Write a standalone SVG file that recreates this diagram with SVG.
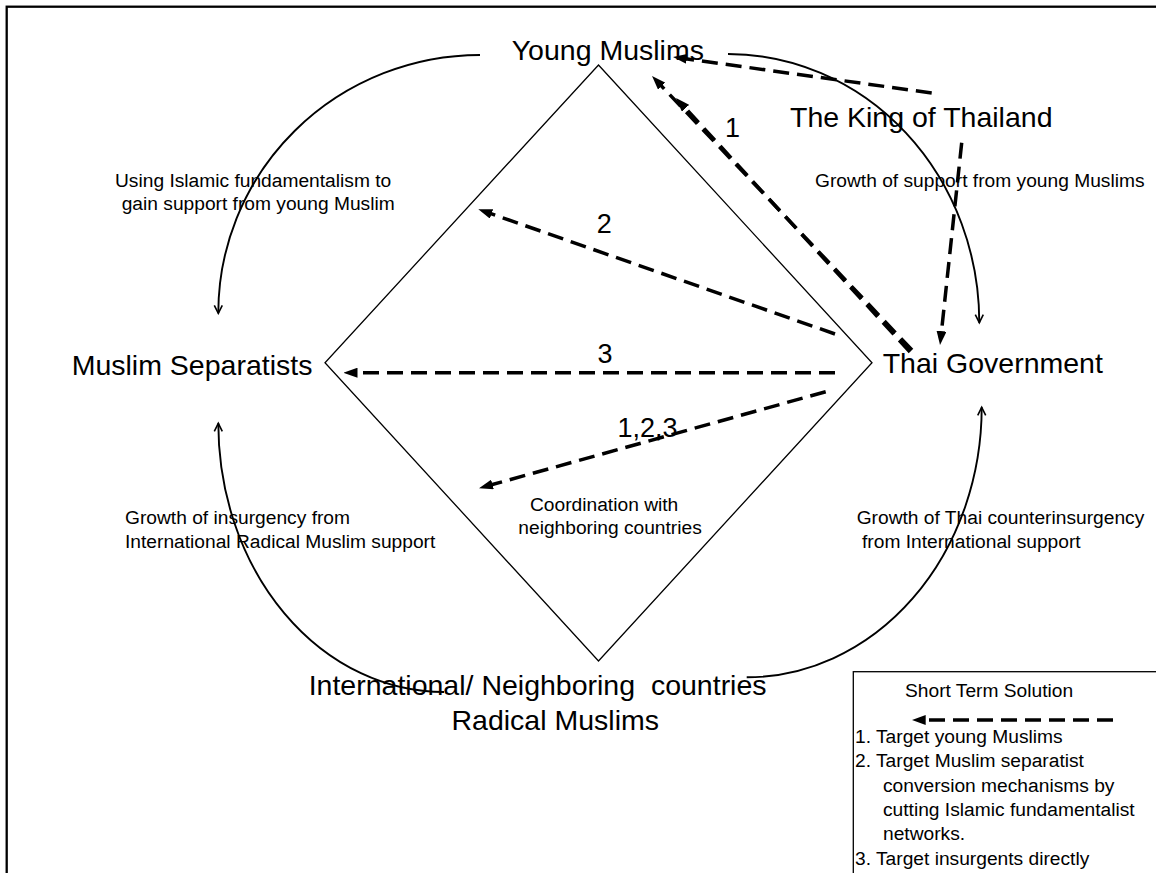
<svg xmlns="http://www.w3.org/2000/svg" width="1156" height="873" viewBox="0 0 1156 873">
<style>
text{font-family:"Liberation Sans",Arial,sans-serif;fill:#000;white-space:pre}
.big{font-size:28.5px}
.num{font-size:27px}
.sm{font-size:19.2px}
.dash{fill:none;stroke:#000;stroke-width:3.5;stroke-dasharray:16 8;marker-end:url(#tri)}
.arc{fill:none;stroke:#000;stroke-width:1.9;marker-end:url(#vee)}
</style>
<defs>
<marker id="tri" markerUnits="userSpaceOnUse" viewBox="0 0 14 10" markerWidth="14" markerHeight="10" refX="3" refY="5" orient="auto">
<path d="M0,0 L14,5 L0,10 z" fill="#000"/>
</marker>
<marker id="vee" markerUnits="userSpaceOnUse" viewBox="-1 -1 11 10" markerWidth="11" markerHeight="10" refX="8" refY="4" orient="auto">
<path d="M0,0 L8,4 L0,8" fill="none" stroke="#000" stroke-width="1.6"/>
</marker>
</defs>
<rect width="1156" height="873" fill="#fff"/>
<rect x="6.7" y="6.7" width="1170" height="890" fill="none" stroke="#000" stroke-width="2.3"/>
<g id="diamond">
<polygon points="598.5,65 872,362.7 598.5,661 325,362.7" fill="none" stroke="#000" stroke-width="1.3"/>
</g>
<g id="connectors">
<path class="arc" d="M480,55 A262,258 0 0 0 218.3,313.3"/>
<path class="arc" d="M728,54 A251.3,268.7 0 0 1 979.3,322.7"/>
<path class="arc" d="M444,692 A225.7,268.7 0 0 1 218.3,423.3"/>
<path class="arc" d="M746.7,677.3 A235,270 0 0 0 981.7,407.3"/>
<line class="dash" x1="931.7" y1="93" x2="683.9" y2="58.5"/>
<line class="dash" x1="961.7" y1="142.7" x2="941.2" y2="334.1"/>
<line class="dash" x1="912" y1="350" x2="659.6" y2="84"/>
<line class="dash" x1="910" y1="352" x2="683.5" y2="106.1"/>
<line class="dash" x1="835" y1="334" x2="488.7" y2="212.9"/>
<line class="dash" x1="835" y1="372.7" x2="354.5" y2="372.7"/>
<line class="dash" x1="825.7" y1="391.7" x2="489.6" y2="485.3"/>
<text class="num" x="725" y="137">1</text>
<text class="num" x="596.7" y="233.3">2</text>
<text class="num" x="597.4" y="363.3">3</text>
<text class="num" x="617.4" y="437.3">1,2,3</text>
<text class="sm" x="115" y="186.7">Using Islamic fundamentalism to</text>
<text class="sm" x="121.7" y="210">gain support from young Muslim</text>
<text class="sm" x="815" y="186.7">Growth of support from young Muslims</text>
<text class="sm" x="125" y="524">Growth of insurgency from</text>
<text class="sm" x="125" y="548.3">International Radical Muslim support</text>
<text class="sm" x="530" y="510.7">Coordination with</text>
<text class="sm" x="518.3" y="534">neighboring countries</text>
<text class="sm" x="856.7" y="524">Growth of Thai counterinsurgency</text>
<text class="sm" x="856.7" y="547.7"> from International support</text>
</g>
<g id="young-muslims"><text class="big" x="511.7" y="59.5">Young Muslims</text></g>
<g id="king"><text class="big" x="790" y="127">The King of Thailand</text></g>
<g id="thai-government"><text class="big" x="882.7" y="373">Thai Government</text></g>
<g id="muslim-separatists"><text class="big" x="71.7" y="375">Muslim Separatists</text></g>
<g id="international">
<text class="big" x="308.7" y="695">International/ Neighboring  countries</text>
<text class="big" x="451.5" y="730">Radical Muslims</text>
</g>
<g id="legend">
<rect x="853.3" y="671.7" width="320" height="220" fill="none" stroke="#000" stroke-width="1.3"/>
<text class="sm" x="905" y="696.7">Short Term Solution</text>
<line class="dash" x1="1113" y1="720" x2="922.7" y2="720"/>
<text class="sm" x="855" y="743">1. Target young Muslims</text>
<text class="sm" x="855" y="767.3">2. Target Muslim separatist</text>
<text class="sm" x="883" y="791.7">conversion mechanisms by</text>
<text class="sm" x="883" y="816">cutting Islamic fundamentalist</text>
<text class="sm" x="883" y="840.3">networks.</text>
<text class="sm" x="855" y="864.7">3. Target insurgents directly</text>
</g>
</svg>
